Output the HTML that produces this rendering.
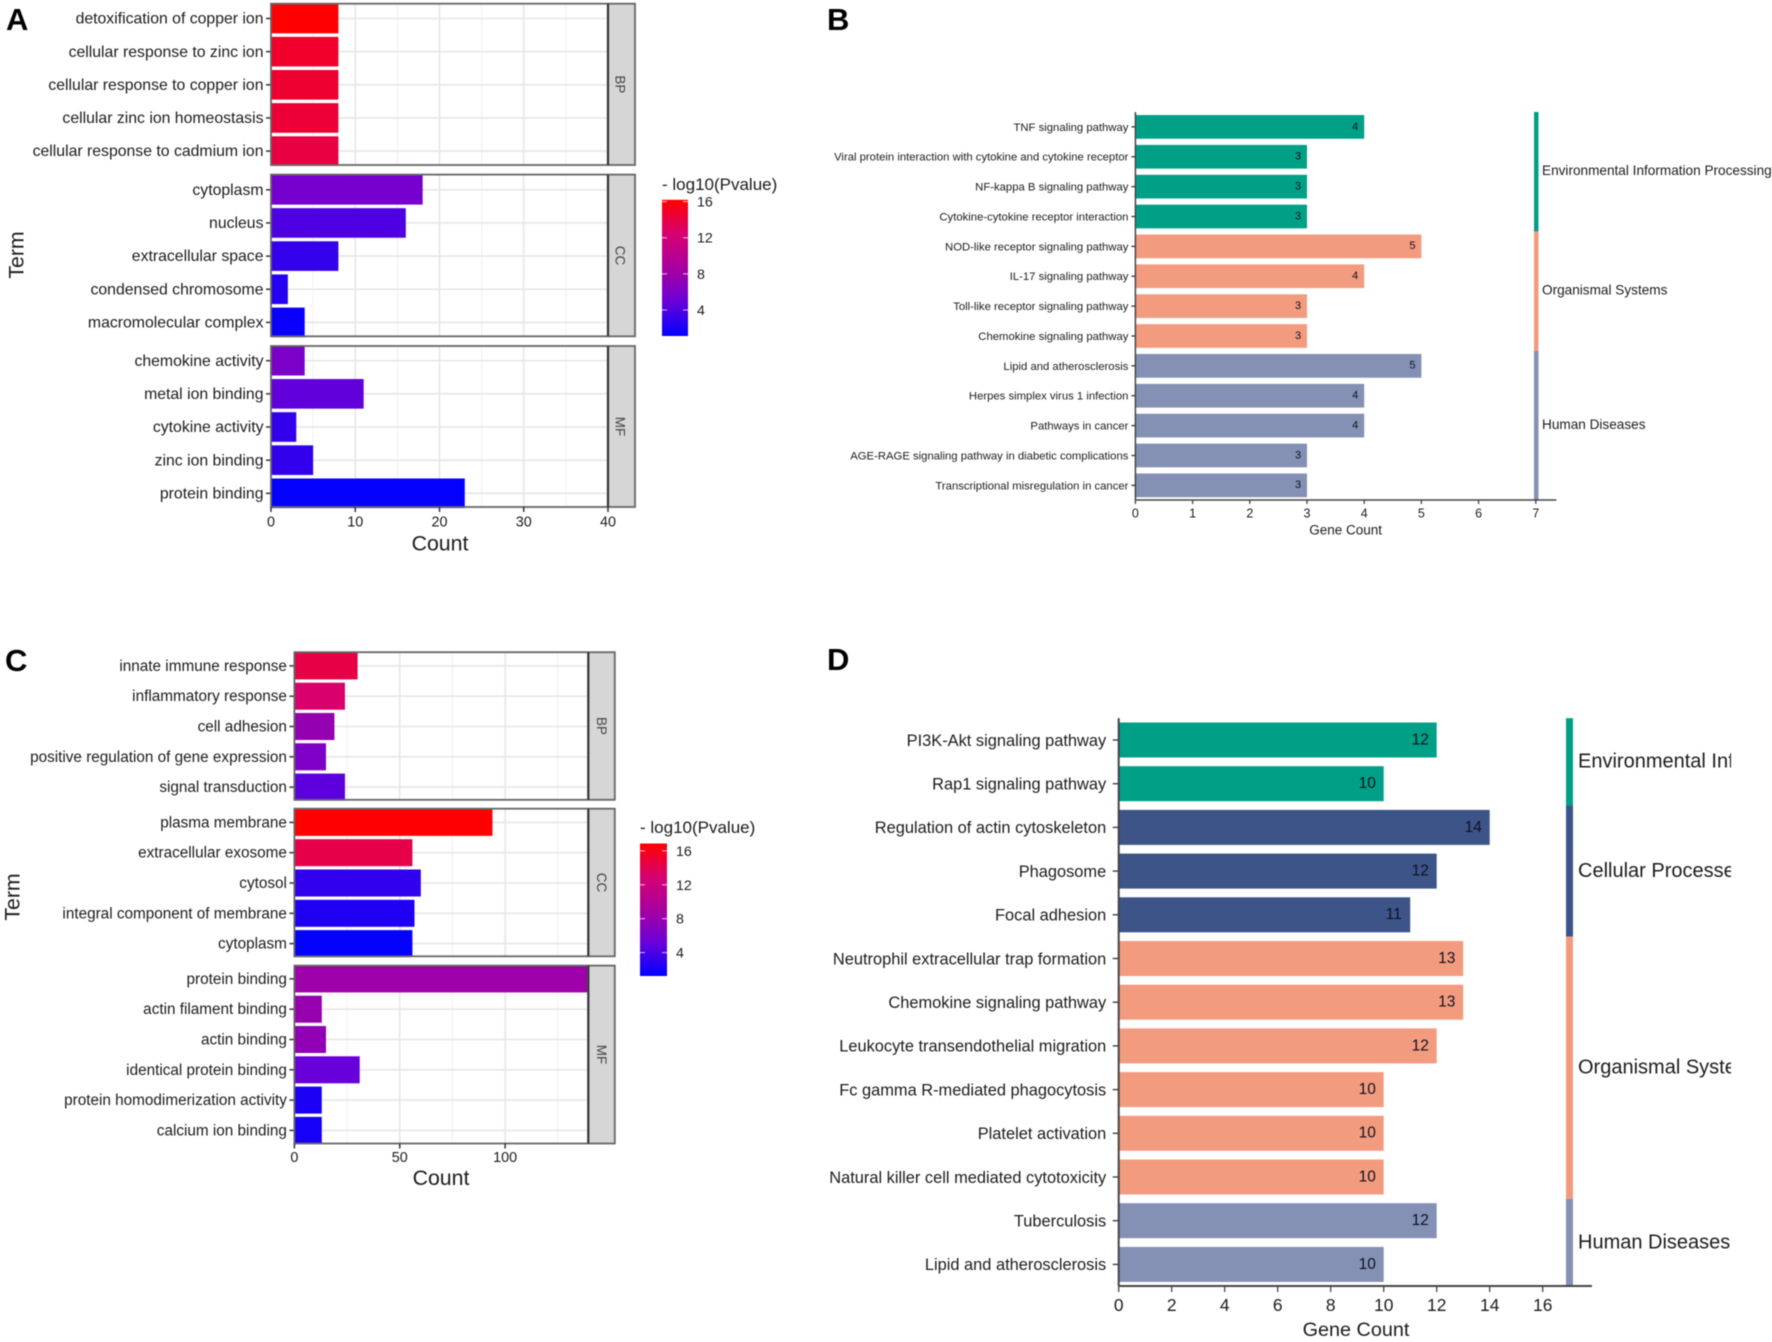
<!DOCTYPE html>
<html lang="en">
<head>
<meta charset="utf-8">
<title>Enrichment analysis panels A-D</title>
<style>
html,body{margin:0;padding:0;background:#fff;width:1772px;height:1342px;overflow:hidden}
svg{display:block;filter:blur(.45px)}
text{font-family:"Liberation Sans",Arial,sans-serif;fill:#1c1c1c}
</style>
</head>
<body>
<svg id="figure" xmlns="http://www.w3.org/2000/svg" width="1772" height="1342" viewBox="0 0 1772 1342">
  <defs>
    <linearGradient id="pvalue-gradient" x1="0" y1="1" x2="0" y2="0">
      <stop offset="0" stop-color="#0000ff"/>
      <stop offset=".25" stop-color="#6a00d9"/>
      <stop offset=".5" stop-color="#a8009f"/>
      <stop offset=".75" stop-color="#d70072"/>
      <stop offset="1" stop-color="#ff0000"/>
    </linearGradient>
    <clipPath id="d-label-clip"><rect x="1570" y="700" width="161" height="600"/></clipPath>
  </defs>
  <rect width="1772" height="1342" fill="#fff"/>
</svg>
<script>
// ---------- Panel A data ----------
const termsA_BP = ["detoxification of copper ion","cellular response to zinc ion","cellular response to copper ion","cellular zinc ion homeostasis","cellular response to cadmium ion"];
const countsA_BP = [8,8,8,8,8];
const pvalA_BP = [16.2,14.8,14.6,14.4,14];
const termsA_CC = ["cytoplasm","nucleus","extracellular space","condensed chromosome","macromolecular complex"];
const countsA_CC = [18,16,8,2,4];
const pvalA_CC = [5.6,3.9,3,2.4,1.4];
const termsA_MF = ["chemokine activity","metal ion binding","cytokine activity","zinc ion binding","protein binding"];
const countsA_MF = [4,11,3,5,23];
const pvalA_MF = [6,4.6,2.9,2.9,1.2];
const ticksA = [0,10,20,30,40];
const minorTicksA = [5,15,25,35];

// ---------- Panel C data ----------
const termsC_BP = ["innate immune response","inflammatory response","cell adhesion","positive regulation of gene expression","signal transduction"];
const countsC_BP = [30,24,19,15,24];
const pvalC_BP = [14.5,13.2,7.8,6.4,4.6];
const termsC_CC = ["plasma membrane","extracellular exosome","cytosol","integral component of membrane","cytoplasm"];
const countsC_CC = [94,56,60,57,56];
const pvalC_CC = [16.9,14.4,3,2.4,1.3];
const termsC_MF = ["protein binding","actin filament binding","actin binding","identical protein binding","protein homodimerization activity","calcium ion binding"];
const countsC_MF = [139,13,15,31,13,13];
const pvalC_MF = [8.4,8,7.6,5,2.2,2];
const ticksC = [0,50,100];
const minorTicksC = [25,75,125];
const legendTicks = [4,8,12,16];

// ---------- Panel B data ----------
const termsB = ["TNF signaling pathway","Viral protein interaction with cytokine and cytokine receptor","NF-kappa B signaling pathway","Cytokine-cytokine receptor interaction","NOD-like receptor signaling pathway","IL-17 signaling pathway","Toll-like receptor signaling pathway","Chemokine signaling pathway","Lipid and atherosclerosis","Herpes simplex virus 1 infection","Pathways in cancer","AGE-RAGE signaling pathway in diabetic complications","Transcriptional misregulation in cancer"];
const countsB = [4,3,3,3,5,4,3,3,5,4,4,3,3];
const groupNamesB = ["Environmental Information Processing","Organismal Systems","Human Diseases"];
const groupSizesB = [4,4,5];
const ticksB = [0,1,2,3,4,5,6,7];

// ---------- Panel D data ----------
const termsD = ["PI3K-Akt signaling pathway","Rap1 signaling pathway","Regulation of actin cytoskeleton","Phagosome","Focal adhesion","Neutrophil extracellular trap formation","Chemokine signaling pathway","Leukocyte transendothelial migration","Fc gamma R-mediated phagocytosis","Platelet activation","Natural killer cell mediated cytotoxicity","Tuberculosis","Lipid and atherosclerosis"];
const countsD = [12,10,14,12,11,13,13,12,10,10,10,12,10];
const groupNamesD = ["Environmental Information Processing","Cellular Processes","Organismal Systems","Human Diseases"];
const groupSizesD = [2,3,6,2];
const ticksD = [0,2,4,6,8,10,12,14,16];

const groupColors = {"Environmental Information Processing":"#00a087","Cellular Processes":"#3c5488","Organismal Systems":"#f39b7f","Human Diseases":"#8491b4"};

const NS = "http://www.w3.org/2000/svg";
const figure = document.getElementById("figure");

function mk(tag, attrs, parent){
  const el = document.createElementNS(NS, tag);
  for (const k in attrs) el.setAttribute(k, attrs[k]);
  (parent || figure).appendChild(el);
  return el;
}
function slug(s){ return String(s).toLowerCase().replace(/[^a-z0-9]+/g,"-").replace(/^-|-$/g,""); }
function txt(parent, s, x, y, size, o){
  o = o || {};
  const base = size * 0.35;
  let tf = "translate(" + x + "," + y + ")";
  if (o.rot) tf += " rotate(" + o.rot + ")";
  const el = mk("text", {transform: tf, y: base, "font-size": size, "text-anchor": o.anchor || "start"}, parent);
  if (o.fill) el.style.fill = o.fill;
  if (o.bold) el.setAttribute("font-weight", "bold");
  el.textContent = s;
  return el;
}
function lerpColor(a, b, t){
  const pa = [1,3,5].map(i => parseInt(a.substr(i,2),16));
  const pb = [1,3,5].map(i => parseInt(b.substr(i,2),16));
  return "rgb(" + pa.map((v,i) => Math.round(v + (pb[i]-v)*t)).join(",") + ")";
}
const gradStops = ["#0000ff","#6a00d9","#a8009f","#d70072","#ff0000"];
function pvalColor(p, lo, hi){
  const t = Math.max(0, Math.min(1, (p-lo)/(hi-lo))) * (gradStops.length-1);
  const i = Math.min(gradStops.length-2, Math.floor(t));
  return lerpColor(gradStops[i], gradStops[i+1], t-i);
}

function panelLetter(s, x, y){
  const el = txt(figure, s, x, y, 31, {bold:true, fill:"#000"});
  
  
}

function drawFacet(parent, f){
  const g = mk("g", {}, parent);
  
  
  const y = i => f.first + i * f.step;
  const bg = mk("rect", {x:f.left, y:f.top, width:f.divider-f.left, height:f.bottom-f.top, fill:"#fff"}, g);
  
  
  f.minor.forEach(v => {
    const l = mk("line", {x1:f.x(v), x2:f.x(v), y1:f.top, y2:f.bottom, stroke:"#f0f0f0", "stroke-width":1}, g);
    
    
  });
  f.major.forEach(v => {
    const l = mk("line", {x1:f.x(v), x2:f.x(v), y1:f.top, y2:f.bottom, stroke:"#e6e6e6", "stroke-width":1.6}, g);
    
    
  });
  f.terms.forEach((t,i) => {
    const l = mk("line", {x1:f.left, x2:f.divider, y1:y(i), y2:y(i), stroke:"#e6e6e6", "stroke-width":1.6}, g);
    
    
  });
  f.terms.forEach((t,i) => {
    const bar = mk("rect", {x:f.x(0), y:y(i)-f.barH/2, width:f.x(f.counts[i])-f.x(0), height:f.barH, fill:pvalColor(f.pvals[i], f.pLo, f.pHi)}, g);
    
    
    const tick = mk("line", {x1:f.left-5, x2:f.left, y1:y(i), y2:y(i), stroke:"#333", "stroke-width":1.5}, g);
    
    
    const lab = txt(g, t, f.left-7.5, y(i)-0.4, f.labelSize, {anchor:"end"});
    
    
  });
  const strip = mk("rect", {x:f.divider, y:f.top, width:f.right-f.divider, height:f.bottom-f.top, fill:"#d6d6d6"}, g);
  
  
  const frame = mk("rect", {x:f.left, y:f.top, width:f.right-f.left, height:f.bottom-f.top, fill:"none", stroke:"#666", "stroke-width":1.8}, g);
  
  
  const div = mk("line", {x1:f.divider, x2:f.divider, y1:f.top, y2:f.bottom, stroke:"#333", "stroke-width":2.2}, g);
  
  
  const st = txt(g, f.strip, (f.divider+f.right)/2 + f.stripShift, (f.top+f.bottom)/2, 13.5, {anchor:"middle", rot:90, fill:"#444"});
  
  
}

function drawLegend(parent, l){
  const g = mk("g", {}, parent);
  
  
  const title = txt(g, "- log10(Pvalue)", l.x, l.titleY, 17);
  
  
  const ly = p => l.bottom - (p-l.pLo)/(l.pHi-l.pLo)*(l.bottom-l.top);
  const bar = mk("rect", {x:l.x, y:l.top, width:l.w, height:l.bottom-l.top, fill:"url(#pvalue-gradient)"}, g);
  
  
  legendTicks.forEach(v => {
    const a = mk("line", {x1:l.x, x2:l.x+5, y1:ly(v), y2:ly(v), stroke:"#fff", "stroke-width":1, opacity:.75}, g);
    
    
    const b = mk("line", {x1:l.x+l.w-5, x2:l.x+l.w, y1:ly(v), y2:ly(v), stroke:"#fff", "stroke-width":1, opacity:.75}, g);
    
    
    const t = txt(g, v, l.x+l.w+9, ly(v), 14.2);
    
    
  });
}

function drawFacetChart(c){
  const root = mk("g", {});
  
  
  c.facets.forEach(fc => drawFacet(root, Object.assign({}, c.common, fc)));
  c.common.major.forEach(v => {
    const tk = mk("line", {x1:c.common.x(v), x2:c.common.x(v), y1:c.axisY, y2:c.axisY+5, stroke:"#333", "stroke-width":1.5}, root);
    
    
    const t = txt(root, v, c.common.x(v), c.tickY, 14.4, {anchor:"middle"});
    
    
  });
  const xt = txt(root, "Count", c.xTitleX, c.xTitleY, 21.3, {anchor:"middle"});
  
  
  const yt = txt(root, "Term", c.yTitleX, c.yTitleY, 21.3, {anchor:"middle", rot:-90});
  
  
  drawLegend(root, c.legend);
}

function drawGroupChart(c){
  const root = mk("g", {});
  
  
  const y = i => c.first + i * c.step;
  const x = c.x;
  const barGroup = [];
  c.groupNames.forEach((n,gi) => { for (let k=0;k<c.groupSizes[gi];k++) barGroup.push(n); });
  c.terms.forEach((t,i) => {
    const bar = mk("rect", {x:x(0), y:y(i)-c.barH/2, width:x(c.counts[i])-x(0), height:c.barH, fill:groupColors[barGroup[i]]}, root);
    
    
    const tk = mk("line", {x1:x(0)-c.tickLen, x2:x(0), y1:y(i), y2:y(i), stroke:"#333", "stroke-width":1.3}, root);
    
    
    const lab = txt(root, t, x(0)-c.tickLen-c.labelGap, y(i), c.labelSize, {anchor:"end"});
    
    
    const val = txt(root, c.counts[i], x(c.counts[i])-c.valueInset, y(i)-1, c.valueSize, {anchor:"middle", fill:"#101020"});
    
    
  });
  const labelLayer = mk("g", {}, root);
  
  
  if (c.clip) labelLayer.setAttribute("clip-path", "url(#d-label-clip)");
  let start = 0;
  c.groupNames.forEach((n,gi) => {
    const y0 = y(start-.5), y1 = y(start+c.groupSizes[gi]-.5);
    const seg = mk("rect", {x:c.sideX, y:y0, width:c.sideW, height:y1-y0, fill:groupColors[n]}, root);
    
    
    const t = txt(labelLayer, n, c.groupLabelX, (y0+y1)/2 - 1.3, c.groupSize);
    
    
    start += c.groupSizes[gi];
  });
  const ax = mk("line", {x1:x(0), x2:c.axisEnd, y1:c.axisY, y2:c.axisY, stroke:"#444", "stroke-width":c.axisW}, root);
  
  
  const ay = mk("line", {x1:x(0), x2:x(0), y1:y(-.5), y2:c.axisY, stroke:"#444", "stroke-width":c.axisW}, root);
  
  
  c.ticks.forEach(v => {
    const tk = mk("line", {x1:x(v), x2:x(v), y1:c.axisY, y2:c.axisY+c.tickLen, stroke:"#444", "stroke-width":1.3}, root);
    
    
    const t = txt(root, v, x(v), c.tickY, c.tickSize, {anchor:"middle"});
    
    
  });
  const xt = txt(root, "Gene Count", c.xTitleX, c.xTitleY, c.xTitleSize, {anchor:"middle"});
  
  
}

// ---------- Draw ----------
panelLetter("A", 6, 19);
panelLetter("B", 827, 19);
panelLetter("C", 5, 660);
panelLetter("D", 827, 659);

drawFacetChart({
  id:"a",
  common:{left:271, divider:608, right:635, barH:29.6, step:33.15, labelSize:15.8, pLo:1.1, pHi:16.2, stripShift:-1.2,
          x:v => 271 + v*8.425, major:ticksA, minor:minorTicksA},
  facets:[
    {strip:"BP", top:3.7, bottom:165, first:18.5, terms:termsA_BP, counts:countsA_BP, pvals:pvalA_BP},
    {strip:"CC", top:174.6, bottom:336.3, first:189.8, terms:termsA_CC, counts:countsA_CC, pvals:pvalA_CC},
    {strip:"MF", top:346, bottom:507, first:360.7, terms:termsA_MF, counts:countsA_MF, pvals:pvalA_MF}
  ],
  axisY:507, tickY:521.5, xTitleX:440, xTitleY:543, yTitleX:16, yTitleY:255,
  legend:{x:662, w:26, top:199.8, bottom:336, titleY:184, pLo:1.12, pHi:16.2}
});

drawFacetChart({
  id:"c",
  common:{left:294.4, divider:588.3, right:614.8, barH:27, step:30.3, labelSize:15.3, pLo:1.2, pHi:16.9, stripShift:0,
          x:v => 294.4 + v*2.107, major:ticksC, minor:minorTicksC},
  facets:[
    {strip:"BP", top:652.2, bottom:799.8, first:665.9, terms:termsC_BP, counts:countsC_BP, pvals:pvalC_BP},
    {strip:"CC", top:808.7, bottom:956.3, first:822.4, terms:termsC_CC, counts:countsC_CC, pvals:pvalC_CC},
    {strip:"MF", top:965.6, bottom:1143.5, first:978.9, terms:termsC_MF, counts:countsC_MF, pvals:pvalC_MF}
  ],
  axisY:1143.5, tickY:1156.8, xTitleX:441, xTitleY:1177.5, yTitleX:12, yTitleY:897,
  legend:{x:640, w:27, top:843.5, bottom:976, titleY:827, pLo:1.24, pHi:16.87}
});

drawGroupChart({
  id:"b", terms:termsB, counts:countsB, groupNames:groupNamesB, groupSizes:groupSizesB, ticks:ticksB,
  x:v => 1135.4 + v*57.2, first:126.9, step:29.87, barH:23.7, tickLen:4, labelGap:3, labelSize:11.3, valueSize:11, valueInset:9,
  sideX:1534, sideW:4.5, groupLabelX:1542, groupSize:13.6, clip:false,
  axisY:500, axisEnd:1556.4, axisW:1.5, tickY:513, tickSize:12.5,
  xTitleX:1345.6, xTitleY:529.8, xTitleSize:13.5
});

drawGroupChart({
  id:"d", terms:termsD, counts:countsD, groupNames:groupNamesD, groupSizes:groupSizesD, ticks:ticksD,
  x:v => 1118.7 + v*26.5, first:740, step:43.7, barH:35, tickLen:6, labelGap:6.5, labelSize:16.4, valueSize:15.5, valueInset:16.5,
  sideX:1566, sideW:7, groupLabelX:1578, groupSize:20, clip:true,
  axisY:1286, axisEnd:1592, axisW:2, tickY:1305, tickSize:17.4,
  xTitleX:1356, xTitleY:1329, xTitleSize:19.8
});
</script>
</body>
</html>
